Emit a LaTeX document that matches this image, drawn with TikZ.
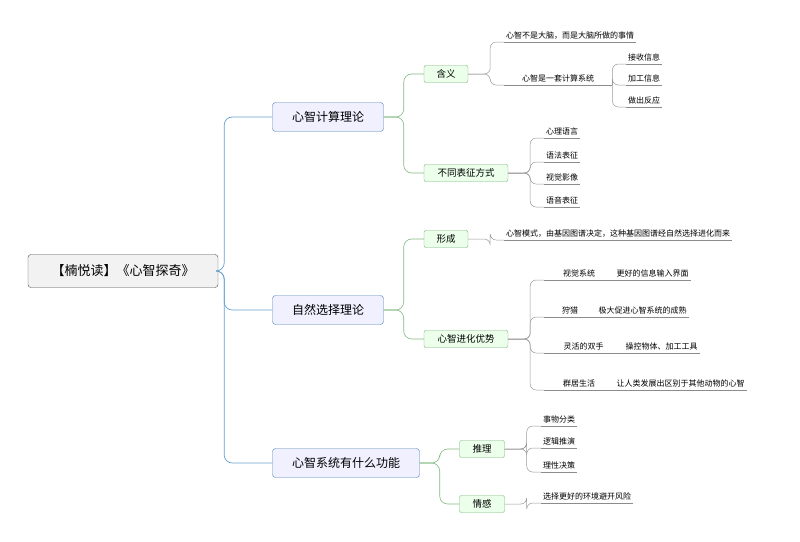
\documentclass[tikz,border=0pt]{standalone}
\usepackage{fontspec}
\setmainfont{Noto Sans CJK SC}
\begin{document}
\begin{tikzpicture}[x=1pt,y=-1pt,
  rootbox/.style={draw=black!70,fill=black!5,rounded corners=3,minimum width=190,minimum height=33,font=\fontsize{13}{15}\selectfont},
  lone/.style={draw=blue!50!cyan!60!black!70,fill=blue!6,rounded corners=3,minimum height=29,font=\fontsize{12}{14}\selectfont},
  ltwo/.style={draw=green!45!black!55,fill=green!8,rounded corners=2,minimum height=17,inner ysep=1pt,font=\fontsize{9.5}{11}\selectfont},
  leaf/.style={anchor=south west,inner xsep=2pt,inner ysep=2.5pt,font=\fontsize{8}{10}\selectfont,
    append after command={(\tikzlastnode.south west) edge[draw=black!45,line width=0.5pt] (\tikzlastnode.south east)}},
  bl/.style={draw=blue!45!cyan!70!black!60,line width=0.7pt,rounded corners=8},
  gl/.style={draw=green!45!black!50,line width=0.6pt,rounded corners=8},
  gy/.style={draw=black!40,line width=0.5pt,rounded corners=6}]
\path (0,0) rectangle (800,541);
\node[rootbox] (root) at (123,271) {【楠悦读】《心智探奇》};
\node[lone,minimum width=111] (a) at (328,117) {心智计算理论};
\node[lone,minimum width=111] (b) at (328,310) {自然选择理论};
\node[lone,minimum width=147] (c) at (346,463) {心智系统有什么功能};
\foreach \t in {a,b,c} \draw[bl] (root.east) -- ++(6,0) |- (\t.west);

\node[ltwo,minimum width=44] (a1) at (446,74) {含义};
\node[ltwo,minimum width=84] (a2) at (466,173) {不同表征方式};
\node[ltwo,minimum width=44] (b1) at (446,239) {形成};
\node[ltwo,minimum width=84] (b2) at (466,339) {心智进化优势};
\node[ltwo,minimum width=45] (c1) at (482,449) {推理};
\node[ltwo,minimum width=45] (c2) at (482,504) {情感};
\foreach \p/\t in {a/a1,a/a2,b/b1,b/b2} \draw[gl] (\p.east) -- ++(20,0) |- (\t.west);
\foreach \p/\t in {c/c1,c/c2} \draw[gl] (\p.east) -- ++(20,0) |- (\t.west);

% 含义
\node[leaf] (a11) at (504,42) {心智不是大脑，而是大脑所做的事情};
\node[leaf,minimum width=108,align=left] (a12) at (504,85) {心智是一套计算系统\hfill};
\foreach \t in {a11,a12} \draw[gy] (a1.east) -- ++(22,0) |- (\t.south west);
\node[leaf] (a121) at (626,64) {接收信息};
\node[leaf] (a122) at (626,85) {加工信息};
\node[leaf] (a123) at (626,107) {做出反应};
\foreach \t in {a121,a122,a123} \draw[gy] (a12.south east) -- ++(0,0) |- (\t.south west);
% 不同表征方式
\node[leaf] (a21) at (544,138) {心理语言};
\node[leaf] (a22) at (544,162) {语法表征};
\node[leaf] (a23) at (544,184) {视觉影像};
\node[leaf] (a24) at (544,207) {语音表征};
\foreach \t in {a21,a22,a23,a24} \draw[gy] (a2.east) -- ++(22,0) |- (\t.south west);
% 形成
\node[leaf] (b11) at (504,240) {心智模式，由基因图谱决定，这种基因图谱经自然选择进化而来};
\draw[gy] (b1.east) -- ++(22,0) |- (b11.south west);
% 心智进化优势
\node[leaf,minimum width=70,align=left] (b21) at (544,280) {视觉系统};
\node[leaf,minimum width=52] (b22) at (544,317) {狩猎};
\node[leaf,minimum width=79] (b23) at (544,353) {灵活的双手};
\node[leaf,minimum width=70] (b24) at (544,390) {群居生活};
\foreach \t in {b21,b22,b23,b24} \draw[gy] (b2.east) -- ++(22,0) |- (\t.south west);
\node[leaf] (b211) at (b21.south east) {更好的信息输入界面};
\node[leaf] (b221) at (b22.south east) {极大促进心智系统的成熟};
\node[leaf] (b231) at (b23.south east) {操控物体、加工工具};
\node[leaf] (b241) at (b24.south east) {让人类发展出区别于其他动物的心智};
% 推理
\node[leaf] (c11) at (541,426) {事物分类};
\node[leaf] (c12) at (541,448) {逻辑推演};
\node[leaf] (c13) at (541,472) {理性决策};
\foreach \t in {c11,c12,c13} \draw[gy] (c1.east) -- ++(22,0) |- (\t.south west);
\node[leaf] (c21) at (541,503) {选择更好的环境避开风险};
\draw[gy] (c2.east) -- ++(22,0) |- (c21.south west);
\end{tikzpicture}
\end{document}
